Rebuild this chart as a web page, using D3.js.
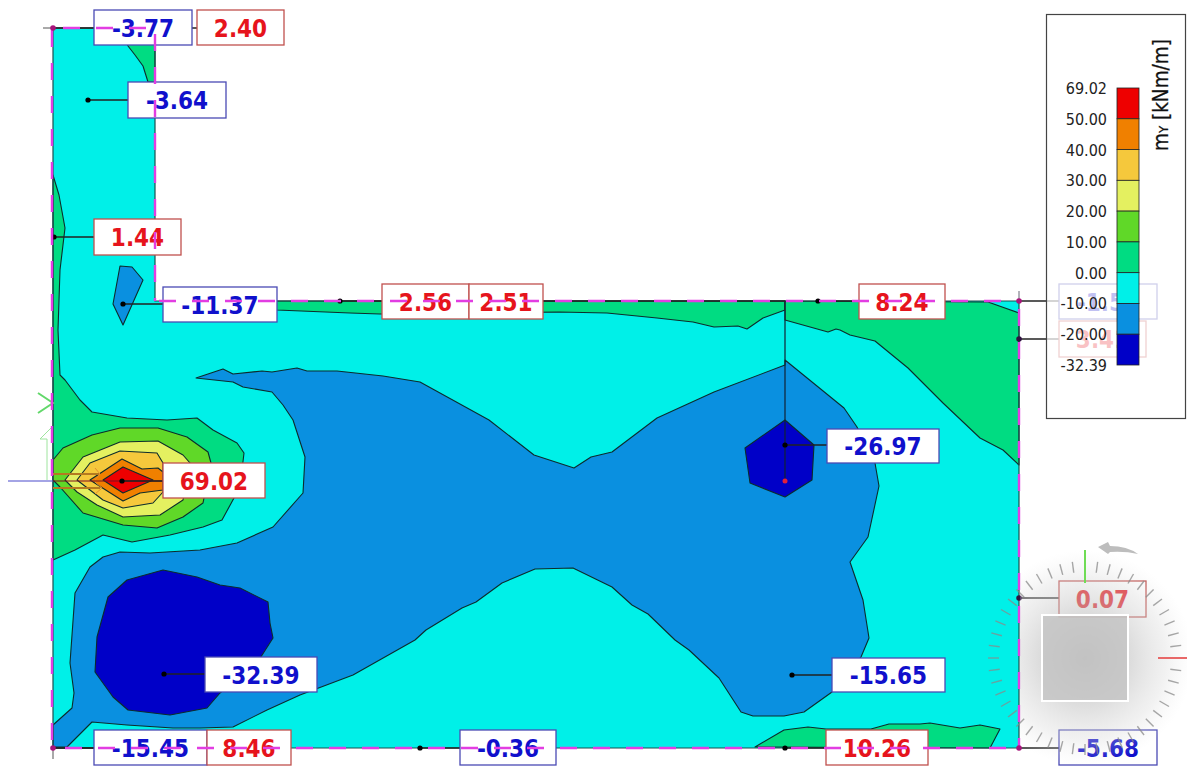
<!DOCTYPE html>
<html>
<head>
<meta charset="utf-8">
<style>
html,body{margin:0;padding:0;background:#fff;overflow:hidden}
svg{display:block}
text{font-family:"DejaVu Sans Condensed","DejaVu Sans",Verdana,sans-serif;font-stretch:condensed}
</style>
<script src="https://cdn.jsdelivr.net/npm/d3@7"></script>
</head>
<body>
<svg id="chart" width="1187" height="767"></svg>
<script>
// ---------- DATA (slab plan in cm, origin at the top-left corner of the slab) ----------
const slabOutline = [[0,0],[102,0],[102,273],[966,273],[966,720],[0,720]];

const legendTicks = ["69.02","50.00","40.00","30.00","20.00","10.00","0.00","-10.00","-20.00","-32.39"];
const legendBands = ["red","orange","gold","yellow","lime","green","cyan","blue","navy"];

const bandGreenTop = [[68,0],[75,18],[82,27],[90,38],[95,54],[102,54],[102,0]];
const bandGreenLeft = [[0,147],[6,167],[12,200],[7,242],[5,302],[7,347],[12,352],[27,372],[39,384],[74,390],[114,392],[144,390],[160,402],[184,415],[191,425],[187,459],[169,492],[150,499],[117,507],[79,514],[50,507],[22,522],[0,532]];
const bandGreenEdgeA = [[152,273],[224,282],[297,285],[327,286],[506,284],[554,285],[604,290],[640,294],[661,299],[685,298],[694,301],[710,290],[732,282],[732,273]];
const bandGreenEdgeB = [[732,273],[732,292],[775,304],[783,301],[787,302],[797,307],[822,313],[855,340],[890,375],[927,410],[950,422],[966,437],[966,285],[935,274]];
const bandGreenBottom = [[702,719],[731,702],[755,699],[773,701],[818,701],[836,696],[867,696],[877,695],[907,700],[927,697],[947,701],[937,720]];
const bandBlueMain = [[143,350],[170,341],[180,346],[209,343],[219,344],[244,340],[254,343],[284,343],[330,348],[367,354],[436,392],[481,427],[521,440],[538,429],[559,424],[604,390],[661,364],[732,337],[732,332],[791,380],[804,399],[822,435],[826,458],[815,509],[797,534],[810,572],[816,610],[808,629],[779,664],[751,684],[731,688],[700,688],[688,684],[666,650],[636,622],[622,612],[595,586],[579,577],[559,559],[520,540],[482,541],[449,555],[423,574],[409,580],[373,602],[362,612],[300,647],[247,667],[214,682],[180,699],[147,700],[120,700],[74,697],[39,694],[14,719],[0,719],[0,697],[19,680],[21,665],[17,635],[22,565],[37,539],[50,529],[67,524],[97,525],[147,522],[184,515],[220,499],[250,465],[252,429],[240,392],[230,377],[219,364],[190,359],[180,354]];
const bandBlueSmall = [[67,238],[79,239],[90,252],[70,297],[60,276]];
const bandNavyLarge = [[110,542],[144,549],[167,557],[187,560],[215,574],[217,595],[220,610],[204,635],[167,665],[154,680],[117,687],[75,682],[60,669],[42,644],[44,609],[55,569],[74,552]];
const bandNavyColumn = [[732,392],[761,417],[759,452],[732,469],[697,455],[692,420]];
const bandLime = [[0,432],[10,420],[39,407],[67,400],[105,400],[134,409],[155,424],[158,435],[150,475],[130,489],[104,500],[70,497],[30,485],[7,459],[0,452]];
const bandYellow = [[12,452],[30,429],[67,414],[105,413],[130,427],[137,435],[130,472],[107,487],[70,489],[44,477],[24,464]];
const bandGold = [[24,452],[37,435],[67,423],[104,425],[110,435],[110,464],[100,475],[70,480],[50,472],[37,462]];
const bandOrange = [[37,452],[69,431],[89,441],[105,440],[110,444],[110,462],[87,465],[70,473]];
const bandRed = [[50,452],[70,439],[100,452],[70,465]];

const contourBands = [
  ["green",bandGreenTop],["green",bandGreenLeft],["green",bandGreenEdgeA],["green",bandGreenEdgeB],["green",bandGreenBottom],
  ["blue",bandBlueMain],["blue",bandBlueSmall],["navy",bandNavyLarge],["navy",bandNavyColumn],
  ["lime",bandLime],["yellow",bandYellow],["gold",bandGold],["orange",bandOrange],["red",bandRed]
];

const loadLines = [[[0,446],[47,446]],[[0,460],[47,460]],[[0,453],[110,453]]];
const loadChevrons = [[[42,440],[47,446],[42,452]],[[42,454],[49,460],[42,466]]];

const labelValues = ["-3.77","2.40","-3.64","1.44","-11.37","-1.51","3.41","2.56","2.51","8.24","-26.97","69.02","-32.39","-15.65","-15.45","8.46","-0.36","10.26","0.07","-5.68"];
const labelAnchors = [[0,0],[102,0],[35,72],[1,209],[70,276],[966,273],[966,311],[287,273],[732,273],[765,273],[732,417],[69,453],[111,646],[739,647],[0,720],[0,720],[367,720],[732,720],[966,570],[966,720]];
const labelBoxes = [[41,-18,139,17],[144,-18,231,17],[75,54,173,90],[41,191,128,227],[110,259,224,294],[1006,256,1104,291],[1006,293,1093,329],[329,256,416,291],[416,256,490,291],[806,256,892,291],[774,401,886,435],[110,435,212,470],[152,629,264,664],[779,630,892,664],[41,702,154,737],[154,702,238,737],[407,702,503,737],[773,702,875,737],[1006,553,1093,589],[1006,702,1104,737]];

// boundary edges: start, end, distance to first dash
const edgeRuns = [
  [[0,0],[102,0],10],
  [[102,0],[102,273],6],
  [[102,273],[966,273],4],
  [[966,273],[966,720],8],
  [[966,720],[0,720],13],
  [[0,720],[0,0],8]
];

// ---------- STYLE & SCALES ----------
const colours = {red:"#ee0000",orange:"#f08000",gold:"#f5c83c",yellow:"#e4f060",lime:"#60d828",green:"#00dc82",cyan:"#00f0e8",blue:"#0a90e0",navy:"#0000c8"};
const x = d3.scaleLinear().domain([0,966]).range([53,1019]);
const y = d3.scaleLinear().domain([0,720]).range([28,748]);
const path = d3.line().x(d=>x(d[0])).y(d=>y(d[1]));
const closed = p => path(p)+"Z";
const svg = d3.select("#chart");
const defs = svg.append("defs");

// ---------- CONTOURS ----------
const plot = svg.append("g");
plot.append("path").attr("d",closed(slabOutline)).attr("fill",colours.cyan);
plot.selectAll("path.band").data(contourBands).join("path").attr("class","band")
  .attr("d",d=>closed(d[1])).attr("fill",d=>colours[d[0]])
  .attr("stroke","#0c2c2c").attr("stroke-width",1.1).attr("stroke-linejoin","round");
plot.append("path").attr("d",closed(slabOutline)).attr("fill","none").attr("stroke","#1d4f4f").attr("stroke-width",1.2);

// supports & local axes
const aux = svg.append("g").attr("fill","none");
aux.selectAll("path.load").data(loadLines).join("path").attr("class","load").attr("d",path)
  .attr("stroke",(d,i)=>i===2?"#7a1020":"#b47a20").attr("stroke-width",(d,i)=>i===2?1:2);
aux.selectAll("path.chev").data(loadChevrons).join("path").attr("class","chev").attr("d",path)
  .attr("stroke","#e09030").attr("stroke-width",1);
aux.append("line").attr("x1",x(-45)).attr("x2",x(0)).attr("y1",y(453)).attr("y2",y(453)).attr("stroke","#4a4acb").attr("stroke-width",1.2);
aux.append("path").attr("d",path([[-15,365],[0,375],[-15,385]])).attr("stroke","#62d86a").attr("stroke-width",2);
aux.append("path").attr("d",path([[-6,452],[-6,411],[-13,411],[-1,399]])).attr("stroke","#9ee49e").attr("stroke-width",1);
aux.append("line").attr("x1",x(-10)).attr("x2",x(41)).attr("y1",y(0)).attr("y2",y(0)).attr("stroke","#555").attr("stroke-width",1);
aux.append("line").attr("x1",x(0)).attr("x2",x(0)).attr("y1",y(720)).attr("y2",y(731)).attr("stroke","#555").attr("stroke-width",1);
aux.append("line").attr("x1",x(966)).attr("x2",x(966)).attr("y1",y(263)).attr("y2",y(273)).attr("stroke","#667").attr("stroke-width",1);
aux.append("line").attr("x1",x(732)).attr("x2",x(732)).attr("y1",y(273)).attr("y2",y(453)).attr("stroke","#123").attr("stroke-width",1.2);
aux.append("circle").attr("cx",x(732)).attr("cy",y(453)).attr("r",2.5).attr("fill","#e0203c");

// ---------- RESULT LABELS ----------
const labels = svg.append("g");
const labelData = labelValues.map((v,i)=>({v,a:labelAnchors[i],b:labelBoxes[i],neg:v[0]==="-"}));
labels.selectAll("line").data(labelData).join("line")
  .attr("x1",d=>x(d.a[0])).attr("y1",d=>y(d.a[1]))
  .attr("x2",d=>d.a[0]<d.b[0]?x(d.b[0]):x(d.b[2])).attr("y2",d=>y(d.a[1]))
  .attr("stroke","#222").attr("stroke-width",1.3);
labels.selectAll("circle").data(labelData.filter(d=>d.a[0]>0&&d.a[0]<966&&d.v!=="2.51"&&d.v!=="2.40"))
  .join("circle").attr("cx",d=>x(d.a[0])).attr("cy",d=>y(d.a[1])).attr("r",2.6).attr("fill","#000");
const box = labels.selectAll("g").data(labelData).join("g");
box.append("rect").attr("x",d=>x(d.b[0])).attr("y",d=>y(d.b[1]))
  .attr("width",d=>x(d.b[2])-x(d.b[0])).attr("height",d=>y(d.b[3])-y(d.b[1]))
  .attr("fill","#fff").attr("stroke",d=>d.neg?"#4a4ab4":"#c0504e").attr("stroke-width",1.3);
box.append("text").attr("x",d=>(x(d.b[0])+x(d.b[2]))/2).attr("y",d=>(y(d.b[1])+y(d.b[3]))/2+9)
  .attr("text-anchor","middle").attr("font-size",24).attr("font-weight","bold")
  .attr("fill",d=>d.neg?"#1010cc":"#e6141c").text(d=>d.v);

// dashed magenta boundary on top of the labels
svg.selectAll("line.edge").data(edgeRuns).join("line").attr("class","edge")
  .attr("x1",d=>x(d[0][0])-(d[0][0]===0&&d[1][0]===0?1:0)).attr("y1",d=>y(d[0][1]))
  .attr("x2",d=>x(d[1][0])-(d[0][0]===0&&d[1][0]===0?1:0)).attr("y2",d=>y(d[1][1]))
  .attr("stroke","#e23de2").attr("stroke-width",2.4).attr("stroke-dasharray","17 16")
  .attr("stroke-dashoffset",d=>-d[2]);
svg.selectAll("circle.node").data([[0,0],[0,720],[966,273],[966,311],[966,570],[966,720]]).join("circle").attr("class","node")
  .attr("cx",d=>x(d[0])).attr("cy",d=>y(d[1])).attr("r",2.8).attr("fill",(d,i)=>i<3||i===5?"#a8147c":"#301040");

// ---------- VIEW CUBE / COMPASS ----------
const cx = x(1032), cy = y(630);
const grad = defs.append("radialGradient").attr("id","halo");
[[0,"#a8a8a8",.85],[.45,"#c4c4c4",.55],[.75,"#d8d8d8",.35],[1,"#e8e8e8",0]].forEach(s=>
  grad.append("stop").attr("offset",s[0]).attr("stop-color",s[1]).attr("stop-opacity",s[2]));
defs.append("clipPath").attr("id","clipRight").append("rect").attr("x",x(966)+1).attr("y",0).attr("width",300).attr("height",767);
const cube = svg.append("g");
cube.append("circle").attr("cx",cx).attr("cy",cy).attr("r",108).attr("fill","url(#halo)").attr("clip-path","url(#clipRight)");
const tickAngles = d3.range(0,360,7.5).filter(a=>a!==0&&a!==90);
cube.selectAll("line.t").data(tickAngles).join("line").attr("class","t")
  .attr("x1",a=>cx+86*Math.cos(a*Math.PI/180)).attr("y1",a=>cy-86*Math.sin(a*Math.PI/180))
  .attr("x2",a=>cx+97*Math.cos(a*Math.PI/180)).attr("y2",a=>cy-97*Math.sin(a*Math.PI/180))
  .attr("stroke","#8a8a8a").attr("stroke-opacity",.75).attr("stroke-width",1.4);
cube.append("line").attr("x1",cx).attr("x2",cx).attr("y1",cy-108).attr("y2",cy-75).attr("stroke","#6fdc55").attr("stroke-width",2);
cube.append("line").attr("x1",cx+73).attr("x2",cx+105).attr("y1",cy).attr("y2",cy).attr("stroke","#e86868").attr("stroke-width",2);
cube.append("path").attr("d",`M${cx+13},${cy-111} L${cx+23},${cy-116} L${cx+25},${cy-112} Q${cx+42},${cy-112} ${cx+53},${cy-104} Q${cx+40},${cy-107} ${cx+25},${cy-106} L${cx+23},${cy-104} Z`).attr("fill","#bdbdbd");
cube.append("rect").attr("x",cx-43).attr("y",cy-43).attr("width",86).attr("height",86)
  .attr("fill","#c4c4c4").attr("fill-opacity",.85).attr("stroke","#fff").attr("stroke-width",2);

// ---------- LEGEND ----------
const legend = svg.append("g");
legend.append("rect").attr("x",1046.5).attr("y",14.5).attr("width",139).attr("height",404)
  .attr("fill","#fff").attr("fill-opacity",.74).attr("stroke","#444").attr("stroke-width",1.2);
const ly = d3.scalePoint().domain(legendTicks).range([88,365]);
const bar = legend.append("g");
bar.selectAll("rect").data(legendBands).join("rect")
  .attr("x",1117).attr("width",22)
  .attr("y",(d,i)=>ly(legendTicks[i])).attr("height",(d,i)=>ly(legendTicks[i+1])-ly(legendTicks[i]))
  .attr("fill",d=>colours[d]).attr("stroke","#222").attr("stroke-width",.8);
legend.selectAll("text.tick").data(legendTicks).join("text").attr("class","tick")
  .attr("x",1107).attr("y",d=>ly(d)+6).attr("text-anchor","end")
  .attr("font-size",16).attr("fill","#222").text(d=>d);
const title = legend.append("text").attr("transform","translate(1168,151) rotate(-90)")
  .attr("font-size",20.5).attr("fill","#111").attr("stroke","#111").attr("stroke-width",.25);
title.append("tspan").text("m");
title.append("tspan").attr("font-size",13).text("Y");
title.append("tspan").text(" [kNm/m]");
</script>
</body>
</html>
